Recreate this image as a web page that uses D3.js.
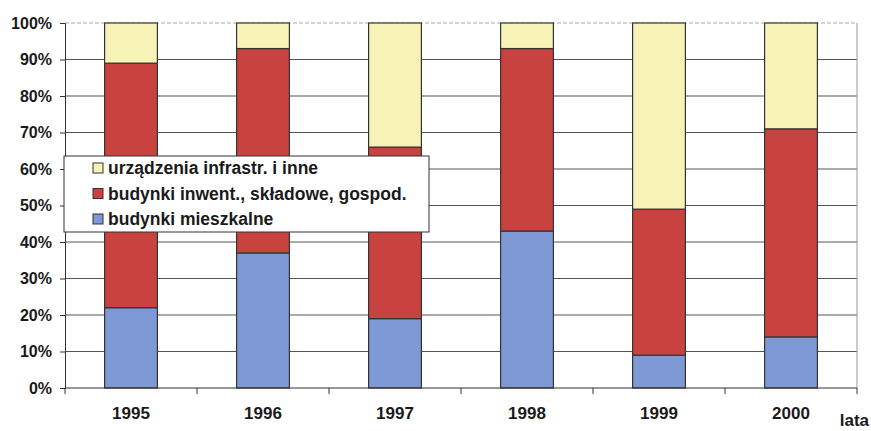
<!DOCTYPE html>
<html>
<head>
<meta charset="utf-8">
<script src="https://cdn.jsdelivr.net/npm/d3@7"></script>
<style>
  body { margin: 0; background: #fff; }
  svg { display: block; font-family: "Liberation Sans", Arial, sans-serif; font-weight: bold; }
</style>
</head>
<body>
<div id="chart"></div>
<script>
const years = ["1995", "1996", "1997", "1998", "1999", "2000"];
const mieszkalne = [22, 37, 19, 43, 9, 14];
const inwentarskie = [67, 56, 47, 50, 40, 57];
const infrastruktura = [11, 7, 34, 7, 51, 29];
const yTicks = [0, 10, 20, 30, 40, 50, 60, 70, 80, 90, 100];

const seriesNames = ["budynki mieszkalne", "budynki inwent., składowe, gospod.", "urządzenia infrastr. i inne"];
const seriesColors = ["#7f99d7", "#c8433f", "#f7f2b6"];

const width = 871, height = 431;
const margin = { top: 23, right: 14, bottom: 43, left: 65 };
const innerW = width - margin.left - margin.right;
const innerH = height - margin.top - margin.bottom;

const table = years.map((y, i) => ({
  year: y,
  s0: mieszkalne[i],
  s1: inwentarskie[i],
  s2: infrastruktura[i]
}));
const stacked = d3.stack().keys(["s0", "s1", "s2"])(table);

const svg = d3.select("#chart").append("svg")
  .attr("width", width)
  .attr("height", height);

const g = svg.append("g")
  .attr("transform", `translate(${margin.left},${margin.top})`);

const x = d3.scaleBand().domain(years).range([0, innerW]).paddingInner(0.6).paddingOuter(0.3);
const y = d3.scaleLinear().domain([0, 100]).range([innerH, 0]);

// gridlines
g.selectAll(".grid")
  .data(yTicks.filter(t => t > 0 && t < 100))
  .enter().append("line")
  .attr("x1", 0).attr("x2", innerW)
  .attr("y1", d => y(d)).attr("y2", d => y(d))
  .attr("stroke", "#555").attr("stroke-width", 1);

// plot area top/right border
g.append("line")
  .attr("x1", 0).attr("x2", innerW).attr("y1", y(100)).attr("y2", y(100))
  .attr("stroke", "#aaa").attr("stroke-dasharray", "4,2");
g.append("line")
  .attr("x1", innerW).attr("x2", innerW).attr("y1", y(100)).attr("y2", innerH)
  .attr("stroke", "#999");

// bars
stacked.forEach((layer, li) => {
  g.selectAll(".bar" + li)
    .data(layer)
    .enter().append("rect")
    .attr("x", d => x(d.data.year))
    .attr("y", d => y(d[1]))
    .attr("width", x.bandwidth())
    .attr("height", d => y(d[0]) - y(d[1]))
    .attr("fill", seriesColors[li])
    .attr("stroke", "#333")
    .attr("stroke-width", 1.2);
});

// y axis
const yAxis = g.append("g")
  .call(d3.axisLeft(y).tickValues(yTicks).tickFormat(d => d + "%").tickSize(5).tickPadding(8));
yAxis.select(".domain").attr("stroke", "#333");
yAxis.selectAll("line").attr("stroke", "#333");
yAxis.selectAll("text").style("font-size", "16px").style("font-weight", "bold").attr("fill", "#1a1a1a");

// x axis: ticks between categories
const step = x.step();
const xAxis = g.append("g").attr("transform", `translate(0,${innerH})`);
xAxis.append("line").attr("x1", 0).attr("x2", innerW).attr("stroke", "#333").attr("stroke-width", 1.2);
xAxis.selectAll(".sep")
  .data(d3.range(years.length + 1))
  .enter().append("line")
  .attr("x1", i => i * step).attr("x2", i => i * step)
  .attr("y1", 0).attr("y2", 6)
  .attr("stroke", "#333");
xAxis.selectAll(".lab")
  .data(years)
  .enter().append("text")
  .attr("x", d => x(d) + x.bandwidth() / 2)
  .attr("y", 31)
  .attr("text-anchor", "middle")
  .style("font-size", "17px")
  .attr("fill", "#1a1a1a")
  .text(d => d);

svg.append("text")
  .attr("x", 869).attr("y", 432 - 6)
  .attr("text-anchor", "end")
  .style("font-size", "17px")
  .attr("fill", "#1a1a1a")
  .text("lata");

// legend
const legend = svg.append("g").attr("transform", "translate(64,156)");
legend.append("rect")
  .attr("width", 365).attr("height", 76)
  .attr("fill", "#fff").attr("stroke", "#333");
const order = [2, 1, 0];
order.forEach((si, row) => {
  const ly = 12 + row * 25.5;
  legend.append("rect")
    .attr("x", 29).attr("y", ly - 5)
    .attr("width", 10).attr("height", 10)
    .attr("fill", seriesColors[si]).attr("stroke", "#333");
  legend.append("text")
    .attr("x", 44).attr("y", ly + 6)
    .style("font-size", "17.5px")
    .attr("fill", "#1a1a1a")
    .text(seriesNames[si]);
});
</script>
</body>
</html>
